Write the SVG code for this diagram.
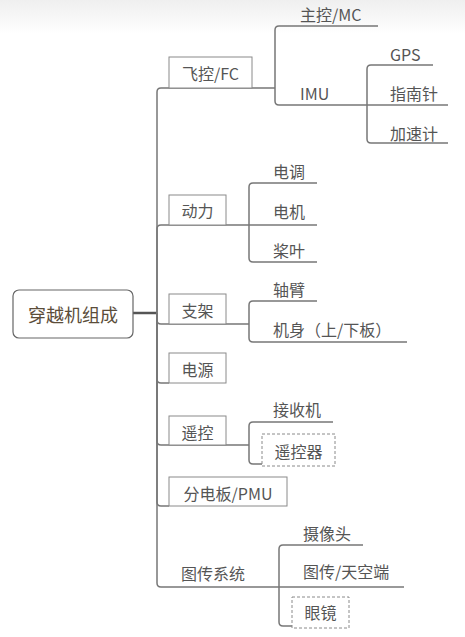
<svg xmlns="http://www.w3.org/2000/svg" width="465" height="637" viewBox="0 0 465 637">
<defs>
<linearGradient id="bg" x1="0" y1="0" x2="0" y2="1">
<stop offset="0" stop-color="#efefef"/>
<stop offset="1" stop-color="#ffffff"/>
</linearGradient>
</defs>
<style>
text{font-family:"Noto Sans CJK SC","Liberation Sans",sans-serif;fill:#555;font-size:16px}
.root{fill:#5b4d3a;font-size:18px}
.box{fill:#fff;stroke:#8a8a8a;stroke-width:1}
.dash{fill:#fff;stroke:#8a8a8a;stroke-width:1;stroke-dasharray:3 2}
.c{fill:none;stroke:#777;stroke-width:1.5}
.mid{text-anchor:middle}
</style>
<rect width="465" height="637" fill="#fff"/>
<rect width="465" height="34" fill="url(#bg)"/>
<g id="connectors">
<path class="c" d="M133,313 H157" style="stroke:#555;stroke-width:2.5"/>
<path class="c" d="M157,313 V92 Q157,88 161,88 H275"/>
<path class="c" d="M157,313 V229 Q157,225 161,225 H249"/>
<path class="c" d="M157,313 V320 Q157,324 161,324 H249"/>
<path class="c" d="M157,313 V379 Q157,383 161,383 H169"/>
<path class="c" d="M157,313 V441 Q157,445 161,445 H249"/>
<path class="c" d="M157,313 V502 Q157,506 161,506 H169"/>
<path class="c" d="M157,313 V583 Q157,587 161,587 H279"/>
<path class="c" d="M275,88 V30 Q275,26 279,26 H378"/>
<path class="c" d="M275,88 V101 Q275,105 279,105 H367"/>
<path class="c" d="M367,105 V69 Q367,65 371,65 H433"/>
<path class="c" d="M367,105 H448"/>
<path class="c" d="M367,105 V139 Q367,143 371,143 H448"/>
<path class="c" d="M249,225 V187 Q249,183 253,183 H317"/>
<path class="c" d="M249,225 H317"/>
<path class="c" d="M249,225 V258 Q249,262 253,262 H317"/>
<path class="c" d="M249,324 V305 Q249,301 253,301 H317"/>
<path class="c" d="M249,324 V338 Q249,342 253,342 H407"/>
<path class="c" d="M249,445 V426 Q249,422 253,422 H333"/>
<path class="c" d="M249,445 V460 Q249,464 253,464 H262"/>
<path class="c" d="M279,587 V549 Q279,545 283,545 H363"/>
<path class="c" d="M279,587 H404"/>
<path class="c" d="M279,587 V622 Q279,626 283,626 H292"/>
</g>
<g id="root"><rect x="13" y="290" width="120" height="48" rx="6" fill="#fff" stroke="#666" stroke-width="1.2"/><text class="root mid" x="73" y="322">穿越机组成</text></g>
<g id="fc"><rect class="box" x="169" y="57" width="83" height="31"/><text class="mid" x="210.5" y="80">飞控/FC</text></g>
<g id="mc"><text x="300" y="21">主控/MC</text></g>
<g id="imu"><text x="300" y="100">IMU</text></g>
<g id="gps"><text x="390" y="61">GPS</text></g>
<g id="compass"><text x="390" y="100">指南针</text></g>
<g id="accel"><text x="390" y="140">加速计</text></g>
<g id="power"><rect class="box" x="169" y="195" width="57" height="30"/><text class="mid" x="197.5" y="217">动力</text></g>
<g id="esc"><text x="273" y="178">电调</text></g>
<g id="motor"><text x="273" y="218">电机</text></g>
<g id="prop"><text x="273" y="257">桨叶</text></g>
<g id="frame"><rect class="box" x="169" y="294" width="57" height="30"/><text class="mid" x="197.5" y="317">支架</text></g>
<g id="arm"><text x="273" y="296">轴臂</text></g>
<g id="body"><text x="273" y="336">机身（上/下板）</text></g>
<g id="battery"><rect class="box" x="169" y="353" width="57" height="30"/><text class="mid" x="197.5" y="376">电源</text></g>
<g id="rc"><rect class="box" x="169" y="416" width="57" height="29"/><text class="mid" x="197.5" y="438.5">遥控</text></g>
<g id="rx"><text x="273" y="416">接收机</text></g>
<g id="tx"><rect class="dash" x="262" y="434" width="73" height="32"/><text class="mid" x="298.5" y="458">遥控器</text></g>
<g id="pmu"><rect class="box" x="169" y="477" width="118" height="29"/><text class="mid" x="228" y="499.5">分电板/PMU</text></g>
<g id="fpv"><text x="181" y="580">图传系统</text></g>
<g id="cam"><text x="303" y="540">摄像头</text></g>
<g id="vtx"><text x="303" y="578">图传/天空端</text></g>
<g id="goggles"><rect class="dash" x="292" y="597" width="57" height="31"/><text class="mid" x="320.5" y="619">眼镜</text></g>
</svg>
